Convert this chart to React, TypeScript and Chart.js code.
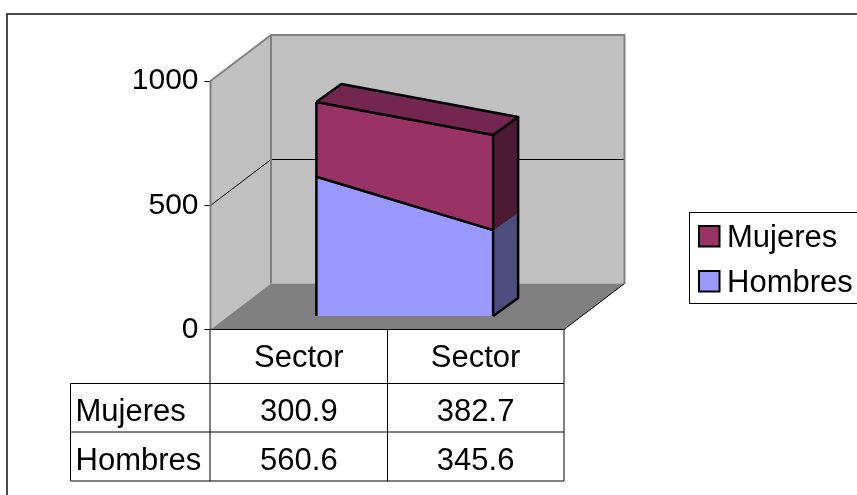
import React, { useEffect, useRef } from "react";
import { Chart, registerables } from "chart.js";

Chart.register(...registerables);

const categories = ["Sector", "Sector"];
const seriesNames = ["Hombres", "Mujeres"];
const hombres = [560.6, 345.6];
const mujeres = [300.9, 382.7];
const yTicks = [0, 500, 1000];

const BLUE = "#9999FF";
const MAROON = "#993366";
const FONT = '"Liberation Sans", Arial, sans-serif';
const FONT_SIZE = 31;

// 3-D projection: wall depth and the slab the area series occupies inside it
const WALL = { dx: 60.5, dy: -46 };
const SLAB_START = { dx: 17.5, dy: -13.5 };
const SLAB = { dx: 25, dy: -18 };

function poly(ctx: CanvasRenderingContext2D, pts: number[][], fill?: string, stroke?: string, lw = 1) {
  ctx.beginPath();
  pts.forEach((p, i) => (i ? ctx.lineTo(p[0], p[1]) : ctx.moveTo(p[0], p[1])));
  if (fill) {
    ctx.closePath();
    ctx.fillStyle = fill;
    ctx.fill();
  }
  if (stroke) {
    ctx.strokeStyle = stroke;
    ctx.lineWidth = lw;
    ctx.lineJoin = "round";
    ctx.stroke();
  }
}

const chart3d = {
  id: "chart3d",
  beforeDraw(chart: any) {
    const { ctx, width, height } = chart;
    ctx.save();
    ctx.fillStyle = "#fff";
    ctx.fillRect(0, 0, width, height);
    ctx.restore();
  },
  beforeDatasetsDraw(chart: any) {
    const { ctx, chartArea: a, scales } = chart;
    const y = scales.y;
    const { left: l, right: r } = a;
    const b = y.getPixelForValue(0);
    const t = y.getPixelForValue(1000);
    const dx = WALL.dx;
    const dy = WALL.dy;
    ctx.save();
    poly(ctx, [[l, b], [l + dx, b + dy], [l + dx, t + dy], [l, t]], "#C0C0C0");
    poly(ctx, [[l + dx, b + dy], [r + dx, b + dy], [r + dx, t + dy], [l + dx, t + dy]], "#C0C0C0");
    poly(ctx, [[l, b], [r, b], [r + dx, b + dy], [l + dx, b + dy]], "#808080");
    // gridlines
    yTicks.slice(1, -1).forEach((v) => {
      const g = Math.round(y.getPixelForValue(v)) + 0.5;
      poly(ctx, [[l, g], [l + dx, g + dy], [r + dx, g + dy]], undefined, "#000", 1);
    });
    // wall borders
    poly(ctx, [[l, b], [l, t], [l + dx, t + dy], [l + dx, b + dy]], undefined, "#808080", 2);
    poly(ctx, [[l + dx, t + dy], [r + dx, t + dy], [r + dx, b + dy]], undefined, "#808080", 2);
    // floor edges
    poly(ctx, [[l, b], [r, b], [r + dx, b + dy]], undefined, "#000", 1);
    ctx.restore();
    ctx.save();
    ctx.translate(SLAB_START.dx, SLAB_START.dy);
  },
  afterDatasetsDraw(chart: any) {
    const { ctx, chartArea: a, scales } = chart;
    ctx.restore();
    const off = (x: number, y: number) => [x + SLAB_START.dx, y + SLAB_START.dy];
    const back = (p: number[]) => [p[0] + SLAB.dx, p[1] + SLAB.dy];
    const low = chart.getDatasetMeta(0).data;
    const high = chart.getDatasetMeta(1).data;
    const zero = scales.y.getPixelForValue(0);

    const b0 = off(low[0].x, zero);
    const b1 = off(low[1].x, zero);
    const m0 = off(low[0].x, low[0].y);
    const m1 = off(low[1].x, low[1].y);
    const t0 = off(high[0].x, high[0].y);
    const t1 = off(high[1].x, high[1].y);

    ctx.save();
    poly(ctx, [b1, m1, back(m1), back(b1)], "#4D4D80");
    poly(ctx, [m1, t1, back(t1), back(m1)], "#4D1A33");
    poly(ctx, [t0, t1, back(t1), back(t0)], "#732650");
    // edges
    poly(ctx, [b0, t0], undefined, "#000", 2.5);
    poly(ctx, [b1, t1], undefined, "#000", 2.5);
    poly(ctx, [t0, t1], undefined, "#000", 2.5);
    poly(ctx, [m0, m1], undefined, "#000", 2.5);
    poly(ctx, [t0, back(t0), back(t1), t1], undefined, "#000", 2.5);
    poly(ctx, [b1, back(b1), back(t1)], undefined, "#000", 2.5);
    poly(ctx, [m1, back(m1)], undefined, "#222", 1);
    ctx.restore();

    // data table
    const rowTops = [383.5, 432, 481];
    const midEdge = Math.round(scales.x.getPixelForValue(0.5)) + 0.5;
    const xEdges = [a.left - 0.5, midEdge, a.right];
    const tableLeft = 70.5;
    ctx.save();
    ctx.strokeStyle = "#000";
    ctx.lineWidth = 1;
    ctx.beginPath();
    rowTops.forEach((ry) => {
      ctx.moveTo(tableLeft, ry);
      ctx.lineTo(a.right, ry);
    });
    ctx.moveTo(tableLeft, rowTops[0]);
    ctx.lineTo(tableLeft, rowTops[2]);
    xEdges.forEach((x: number) => {
      ctx.moveTo(x, zero);
      ctx.lineTo(x, rowTops[2]);
    });
    ctx.stroke();

    ctx.fillStyle = "#000";
    ctx.font = `${FONT_SIZE}px ${FONT}`;
    ctx.textBaseline = "alphabetic";
    const rows: [string, number[], number][] = [
      [seriesNames[1], mujeres, 421],
      [seriesNames[0], hombres, 469.5],
    ];
    rows.forEach(([name, vals, base]) => {
      ctx.textAlign = "left";
      ctx.fillText(name, 75.5, base);
      ctx.textAlign = "center";
      vals.forEach((v, i) => ctx.fillText(v.toFixed(1), scales.x.getPixelForValue(i), base));
    });

    // legend, drawn from the datasets
    const lx = 689.5;
    ctx.fillStyle = "#fff";
    ctx.fillRect(lx, 212.5, 857 - lx + 2, 91);
    ctx.strokeStyle = "#000";
    ctx.lineWidth = 1;
    ctx.strokeRect(lx, 212.5, 857 - lx + 2, 91);
    [1, 0].forEach((di, i) => {
      const ds = chart.data.datasets[di];
      const top = 226 + i * 45;
      ctx.fillStyle = ds.backgroundColor;
      ctx.fillRect(699, top, 20.5, 20.5);
      ctx.strokeStyle = "#000";
      ctx.lineWidth = 2;
      ctx.strokeRect(699, top, 20.5, 20.5);
      ctx.fillStyle = "#000";
      ctx.textAlign = "left";
      ctx.fillText(ds.label, 727, top + 21);
    });

    // outer frame
    ctx.strokeStyle = "#111";
    ctx.lineWidth = 1.5;
    ctx.strokeRect(7, 14, 860, 500);
    ctx.restore();
  },
};

export default function App() {
  const ref = useRef<HTMLCanvasElement>(null);
  useEffect(() => {
    const chart = new Chart(ref.current as HTMLCanvasElement, {
      type: "line",
      data: {
        labels: categories,
        datasets: [
          {
            label: seriesNames[0],
            data: hombres,
            backgroundColor: BLUE,
            borderColor: "#000",
            borderWidth: 2,
            pointRadius: 0,
            fill: "origin",
            tension: 0,
            clip: false,
          },
          {
            label: seriesNames[1],
            data: mujeres,
            backgroundColor: MAROON,
            borderColor: "#000",
            borderWidth: 2,
            pointRadius: 0,
            fill: "-1",
            tension: 0,
            clip: false,
          },
        ],
      },
      options: {
        responsive: false,
        animation: false,
        layout: { padding: { left: 0, top: 81, right: 293, bottom: 0 } },
        plugins: { legend: { display: false }, tooltip: { enabled: false } },
        scales: {
          x: {
            type: "category",
            offset: true,
            stacked: true,
            grid: { display: false },
            border: { display: false },
            ticks: {
              color: "#000",
              font: { family: FONT, size: FONT_SIZE },
              padding: 2,
              maxRotation: 0,
              autoSkip: false,
            },
            afterFit: (s: any) => {
              s.height = 165.5;
            },
          },
          y: {
            stacked: true,
            min: 0,
            max: 1000,
            ticks: {
              stepSize: 500,
              color: "#000",
              font: { family: FONT, size: 30 },
              padding: 6,
              callback: (v: any) => String(v),
            },
            grid: { drawOnChartArea: false, drawTicks: true, tickLength: 6, color: "#000" },
            border: { color: "#808080", width: 2 },
            afterFit: (s: any) => {
              s.width = 210.5;
            },
          },
        },
      },
      plugins: [chart3d],
    } as any);
    return () => chart.destroy();
  }, []);
  return (
    <canvas
      ref={ref}
      width={857}
      height={495}
      style={{ position: "absolute", left: 0, top: 0, display: "block" }}
    />
  );
}
